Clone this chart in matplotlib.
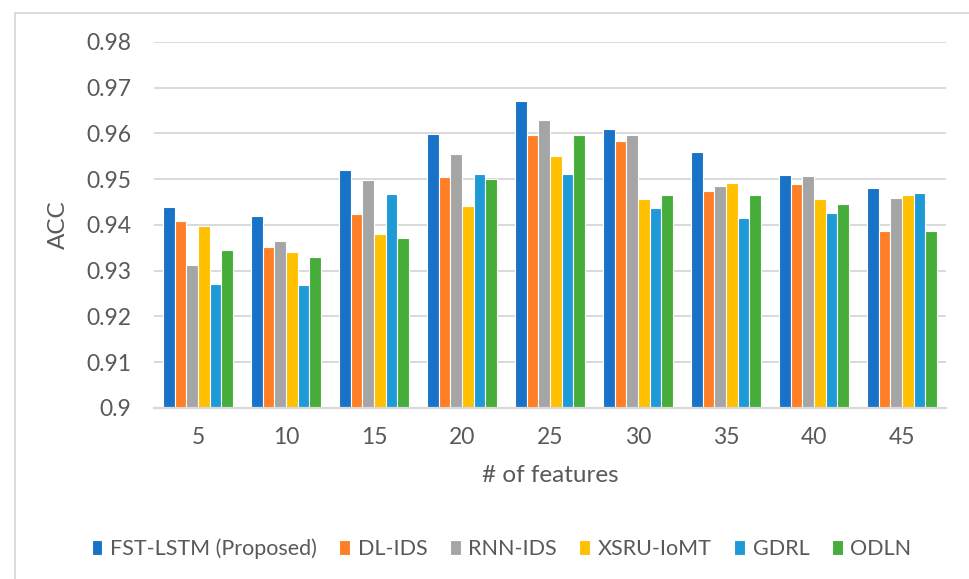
import matplotlib
matplotlib.use("Agg")
import matplotlib.pyplot as plt
import numpy as np
from matplotlib.lines import Line2D

plt.rcParams['font.family'] = ['Lato', 'DejaVu Sans']

features = ["5", "10", "15", "20", "25", "30", "35", "40", "45"]
methods = ["FST-LSTM (Proposed)", "DL-IDS", "RNN-IDS", "XSRU-IoMT", "GDRL", "ODLN"]

fst_lstm = [0.944, 0.942, 0.952, 0.960, 0.967, 0.961, 0.956, 0.951, 0.948]
dl_ids = [0.9409, 0.9353, 0.9424, 0.9505, 0.9596, 0.9583, 0.9474, 0.9490, 0.9386]
rnn_ids = [0.9312, 0.9366, 0.9499, 0.9556, 0.9630, 0.9596, 0.9486, 0.9508, 0.9460]
xsru_iomt = [0.9398, 0.9340, 0.9380, 0.9442, 0.9550, 0.9456, 0.9492, 0.9457, 0.9465]
gdrl = [0.9271, 0.9268, 0.9467, 0.9512, 0.9511, 0.9437, 0.9415, 0.9426, 0.9471]
odln = [0.9345, 0.9329, 0.9371, 0.9500, 0.9596, 0.9466, 0.9465, 0.9446, 0.9387]

series = [fst_lstm, dl_ids, rnn_ids, xsru_iomt, gdrl, odln]
colors = ["#1872C8", "#FF7F27", "#A5A5A5", "#FFC000", "#1E9AD6", "#46AD3A"]

text_color = "#595959"
grid_color = "#D9D9D9"

fig = plt.figure(figsize=(9.7, 5.79), dpi=100)
ax = fig.add_axes([154 / 970, (579 - 408) / 579, (946 - 154) / 970, (408 - 42) / 579])

x = np.arange(len(features))
slot = 0.133
for i, (vals, col, name) in enumerate(zip(series, colors, methods)):
    offs = (i - (len(series) - 1) / 2) * slot
    ax.bar(x + offs, vals, width=slot, color=col, edgecolor="white",
           linewidth=0.8, label=name, zorder=3)

ax.set_ylim(0.9, 0.98)
ax.set_xlim(-0.5, len(features) - 0.5)
ax.set_yticks(np.arange(0.90, 0.981, 0.01))
ax.set_yticklabels(["0.9"] + [f"{v:.2f}" for v in np.arange(0.91, 0.981, 0.01)])
ax.set_xticks(x)
ax.set_xticklabels(features)
ax.tick_params(axis="both", length=0, colors=text_color, labelsize=16.5)
ax.tick_params(axis="y", pad=16.5)
ax.tick_params(axis="x", pad=14)

ax.yaxis.grid(True, color=grid_color, linewidth=1.4, zorder=0)
for s in ["top", "right", "left"]:
    ax.spines[s].set_visible(False)
ax.spines["bottom"].set_color(grid_color)
ax.spines["bottom"].set_linewidth(1.6)
ax.spines["bottom"].set_zorder(4)

ax.set_ylabel("ACC", color=text_color, fontsize=17.5, labelpad=12)
ax.set_xlabel("# of features", color=text_color, fontsize=17.5, labelpad=12)

leg = fig.legend(loc="center", bbox_to_anchor=(0.517, 1 - 549 / 579), ncol=6,
                 frameon=False, fontsize=15.5, handlelength=0.5, handleheight=0.7,
                 handletextpad=0.35, columnspacing=1.05)
for t in leg.get_texts():
    t.set_color(text_color)

# outer frame (left and top edges)
fig.add_artist(Line2D([15 / 970, 15 / 970], [0, 1 - 13 / 579], transform=fig.transFigure,
                      color=grid_color, linewidth=1.3))
fig.add_artist(Line2D([15 / 970, 1], [1 - 13 / 579, 1 - 13 / 579], transform=fig.transFigure,
                      color=grid_color, linewidth=1.3))

fig.savefig("out.png", dpi=100, facecolor="white")
